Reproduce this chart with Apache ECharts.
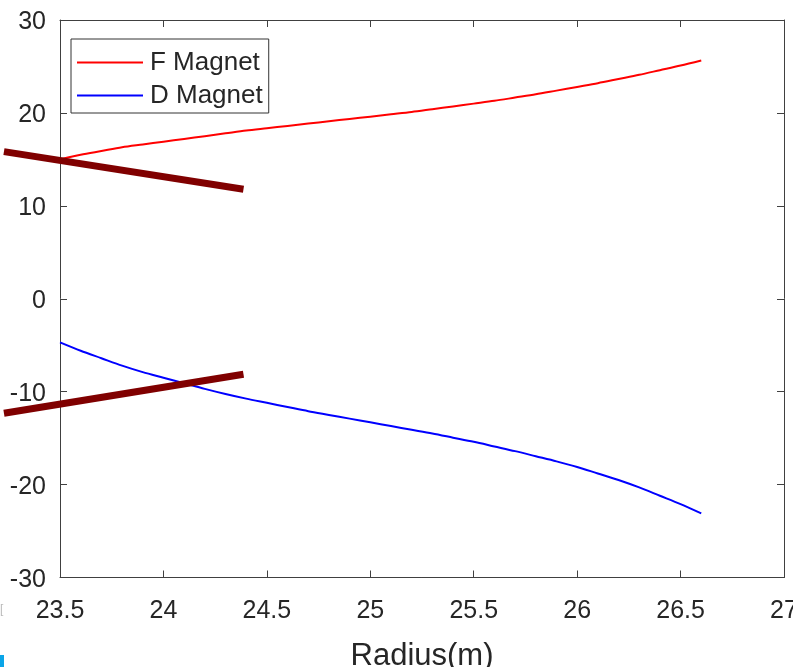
<!DOCTYPE html>
<html>
<head>
<meta charset="utf-8">
<script src="https://cdn.jsdelivr.net/npm/echarts@6/dist/echarts.min.js"></script>
<style>
html,body{margin:0;padding:0;background:#fff;}
#chart{width:793px;height:667px;}
</style>
</head>
<body>
<div id="chart"></div>
<script>
var radius = [23.5,23.6,23.7,23.8,23.9,24.0,24.1,24.2,24.3,24.4,24.5,24.6,24.7,24.8,24.9,25.0,25.1,25.2,25.3,25.4,25.5,25.6,25.7,25.8,25.9,26.0,26.1,26.2,26.3,26.4,26.5,26.6];
var fMagnet = [15.0,15.5,15.9,16.3,16.6,16.9,17.2,17.5,17.8,18.1,18.35,18.6,18.85,19.1,19.35,19.6,19.85,20.1,20.4,20.7,21.0,21.3,21.65,22.0,22.4,22.8,23.2,23.65,24.1,24.6,25.1,25.65];
var dMagnet = [-4.7,-5.6,-6.4,-7.2,-7.9,-8.5,-9.1,-9.7,-10.25,-10.75,-11.2,-11.65,-12.1,-12.5,-12.9,-13.3,-13.7,-14.1,-14.5,-14.95,-15.4,-15.9,-16.4,-16.95,-17.5,-18.1,-18.8,-19.5,-20.3,-21.2,-22.1,-23.1];
var upperMarkX = [23.229, 24.387];
var upperMarkY = [15.83, 11.78];
var lowerMarkX = [23.229, 24.387];
var lowerMarkY = [-12.33, -8.13];
var xTicks = ['23.5','24','24.5','25','25.5','26','26.5','27'];
var yTicks = ['-30','-20','-10','0','10','20','30'];

function pairs(xs, ys){ return xs.map(function(x,i){ return [x, ys[i]]; }); }

var FONT = '"Liberation Sans", Arial, sans-serif';
var AX = '#404040';
var TXT = '#262626';

function segmentSeries(name, xs, ys){
  return {
    name:name, type:'custom', clip:false, silent:true, z:5,
    data:[[xs[0], ys[0], xs[1], ys[1]]],
    renderItem:function(params, api){
      var p1 = api.coord([api.value(0), api.value(1)]);
      var p2 = api.coord([api.value(2), api.value(3)]);
      return {type:'line', shape:{x1:p1[0], y1:p1[1], x2:p2[0], y2:p2[1]},
        style:{stroke:'#800000', lineWidth:7, lineCap:'butt'}};
    },
    encode:{x:[0,2], y:[1,3]}
  };
}

var chart = echarts.init(document.getElementById('chart'), null, {renderer:'canvas'});
chart.setOption({
  animation:false,
  backgroundColor:'#fff',
  grid:{left:60, right:9, top:20, bottom:89.5, containLabel:false, outerBoundsMode:'none'},
  legend:{
    data:['F Magnet','D Magnet'],
    orient:'vertical', left:71, top:39,
    backgroundColor:'#fff',
    borderColor:'#333', borderWidth:1, borderRadius:0,
    padding:[10,6,4,6],
    itemWidth:66, itemHeight:2, itemGap:6, icon:'rect',
    textStyle:{fontFamily:FONT, fontSize:26, color:TXT, padding:[0,0,0,2], lineHeight:27}
  },
  xAxis:[{
    type:'value', min:23.5, max:27, interval:0.5,
    name:'Radius(m)', nameLocation:'middle', nameGap:63,
    nameTextStyle:{fontFamily:FONT, fontSize:31, color:TXT},
    axisLine:{show:true, onZero:false, lineStyle:{color:AX, width:1}},
    axisTick:{show:true, inside:true, length:7, lineStyle:{color:AX}},
    axisLabel:{fontFamily:FONT, fontSize:25, color:TXT, margin:21},
    splitLine:{show:false}
  },{
    type:'value', position:'top', min:23.5, max:27, interval:0.5,
    axisLine:{show:true, onZero:false, lineStyle:{color:AX, width:1}},
    axisTick:{show:true, inside:true, length:7, lineStyle:{color:AX}},
    axisLabel:{show:false}, splitLine:{show:false}
  }],
  yAxis:[{
    type:'value', min:-30, max:30, interval:10,
    axisLine:{show:true, onZero:false, lineStyle:{color:AX, width:1}},
    axisTick:{show:true, inside:true, length:7, lineStyle:{color:AX}},
    axisLabel:{fontFamily:FONT, fontSize:25, color:TXT, margin:14,
      formatter:'{s|{value}}',
      rich:{s:{fontFamily:FONT, fontSize:25, color:TXT, padding:[5,0,0,0]}}},
    splitLine:{show:false}
  },{
    type:'value', position:'right', min:-30, max:30, interval:10,
    axisLine:{show:true, onZero:false, lineStyle:{color:AX, width:1}},
    axisTick:{show:true, inside:true, length:7, lineStyle:{color:AX}},
    axisLabel:{show:false}, splitLine:{show:false}
  }],
  series:[
    {name:'F Magnet', type:'line', data:pairs(radius,fMagnet), showSymbol:false, smooth:0.3,
     lineStyle:{color:'#ff0000', width:2}, itemStyle:{color:'#ff0000'}},
    {name:'D Magnet', type:'line', data:pairs(radius,dMagnet), showSymbol:false, smooth:0.3,
     lineStyle:{color:'#0000ff', width:2}, itemStyle:{color:'#0000ff'}},
    segmentSeries('mark1', upperMarkX, upperMarkY),
    segmentSeries('mark2', lowerMarkX, lowerMarkY)
  ],
  graphic:[
    {type:'rect', left:0, top:655, shape:{width:4, height:12}, style:{fill:'#0aa5e8'}},
    {type:'text', left:0, top:604, style:{text:'[', fill:'#bbbbbb', font:'12px '+FONT}}
  ]
});
</script>
</body>
</html>
